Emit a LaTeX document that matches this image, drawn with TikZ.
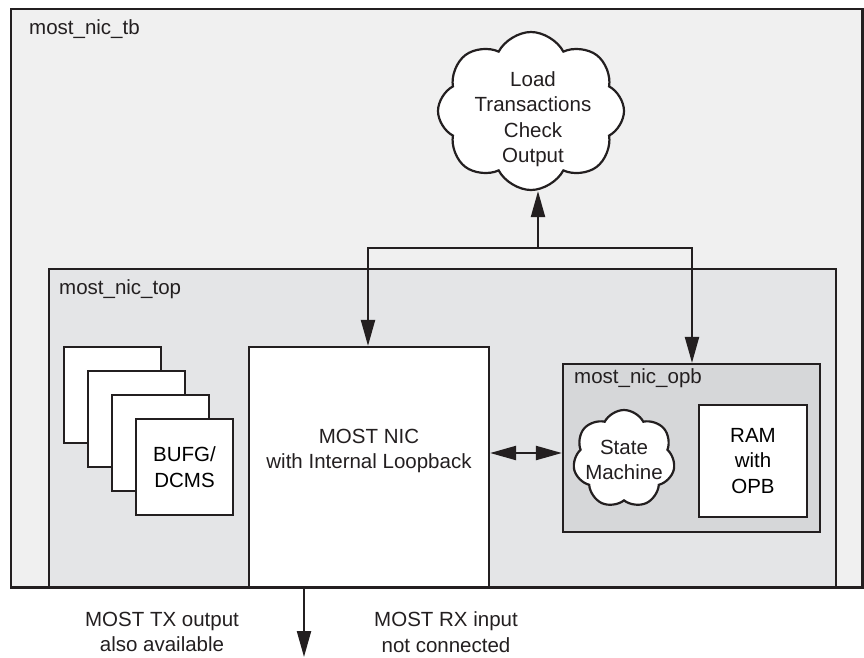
\documentclass[tikz,border=0pt]{standalone}
\usepackage{fontspec}
\setmainfont{Liberation Sans}
\usetikzlibrary{arrows.meta,shapes.symbols}
\definecolor{ink}{HTML}{231F20}
\definecolor{tbfill}{HTML}{F0F0F0}
\definecolor{topfill}{HTML}{E4E5E7}
\definecolor{opbfill}{HTML}{D6D7D9}
\begin{document}
\begin{tikzpicture}[x=1pt,y=-1pt,
  font=\fontsize{20.5}{25.5}\selectfont,
  box/.style={draw=ink, line width=2.2pt, fill=white, inner sep=0pt},
  lbl/.style={anchor=base west, inner sep=0pt, text=ink},
  txt/.style={align=center, inner sep=0pt, text=ink},
  conn/.style={draw=ink, line width=2.2pt},
  tip/.style={-{Triangle[length=26pt,width=14pt]}},
  tips/.style={{Triangle[length=26pt,width=14pt]}-{Triangle[length=26pt,width=14pt]}},
  cloudbox/.style={cloud, draw=ink, line width=2.2pt, fill=white, inner sep=0pt}
]
\useasboundingbox (0,0) rectangle (864,657);
% outer testbench
\node[fill=tbfill, inner sep=0pt, minimum width=851pt, minimum height=578pt] (tb) at (436.5,298) {};
% most_nic_top
\node[fill=topfill, inner sep=0pt, minimum width=787pt, minimum height=318pt] (top) at (442.5,428) {};
\draw[ink, line width=2.2pt] (top.south west) -- (top.north west) -- (top.north east) -- (top.south east);
\draw[ink, line width=2.6pt] (tb.south west) rectangle (tb.north east);
\node[lbl] (tblbl) at (29,34) {most\_nic\_tb};
\node[lbl] (toplbl) at (59,294) {most\_nic\_top};
% top cloud
\node[cloudbox, cloud puffs=8, cloud puff arc=125, minimum width=186pt, minimum height=158pt] (chk) at (531,111) {};
\node[txt] (chktxt) at (533,119) {Load\\Transactions\\Check\\Output};
% BUFG stack
\node[box, minimum width=97pt, minimum height=96pt] (b1) at (112.5,395) {};
\node[box, minimum width=97pt, minimum height=96pt] (b2) at (136.5,419) {};
\node[box, minimum width=97pt, minimum height=96pt] (b3) at (160.5,443) {};
\node[box, minimum width=97pt, minimum height=96pt, align=center] (b4) at (184.5,467) {BUFG/\\DCMS};
% MOST NIC
\node[box, minimum width=240pt, minimum height=240pt] (nic) at (369,467) {};
\node[txt] (nictxt) at (369,451) {MOST NIC\\with Internal Loopback};
% opb
\node[draw=ink, line width=2.2pt, fill=opbfill, inner sep=0pt, minimum width=257pt, minimum height=168pt] (opb) at (691.5,448) {};
\node[lbl] (opblbl) at (574,383) {most\_nic\_opb};
\node[cloudbox, cloud puffs=7, cloud puff arc=125, minimum width=102pt, minimum height=98pt] (sm) at (624,459) {};
\node[txt] (smtxt) at (624,460) {State\\Machine};
\node[box, minimum width=108pt, minimum height=112pt, align=center] (ram) at (753,461) {RAM\\with\\OPB};
% connectors
\coordinate (jc) at (538,248);
\coordinate (jl) at (368,248);
\coordinate (jr) at (692,248);
\draw[conn, tips] (jl |- nic.north) -- (jl) -- (jr) -- (jr |- opb.north);
\draw[conn, tip] (jc) -- (jc |- chk.south);
\coordinate (da) at (0,453);
\draw[conn, tips] (nic.east |- da) -- (opb.west |- da);
\coordinate (out) at (304,657);
\draw[conn, tip] (out |- nic.south) -- (out);
% bottom labels
\node[txt] (txlbl) at (162,632) {MOST TX output\\also available};
\node[txt] (rxlbl) at (446,632) {MOST RX input\\not connected};
\end{tikzpicture}
\end{document}
